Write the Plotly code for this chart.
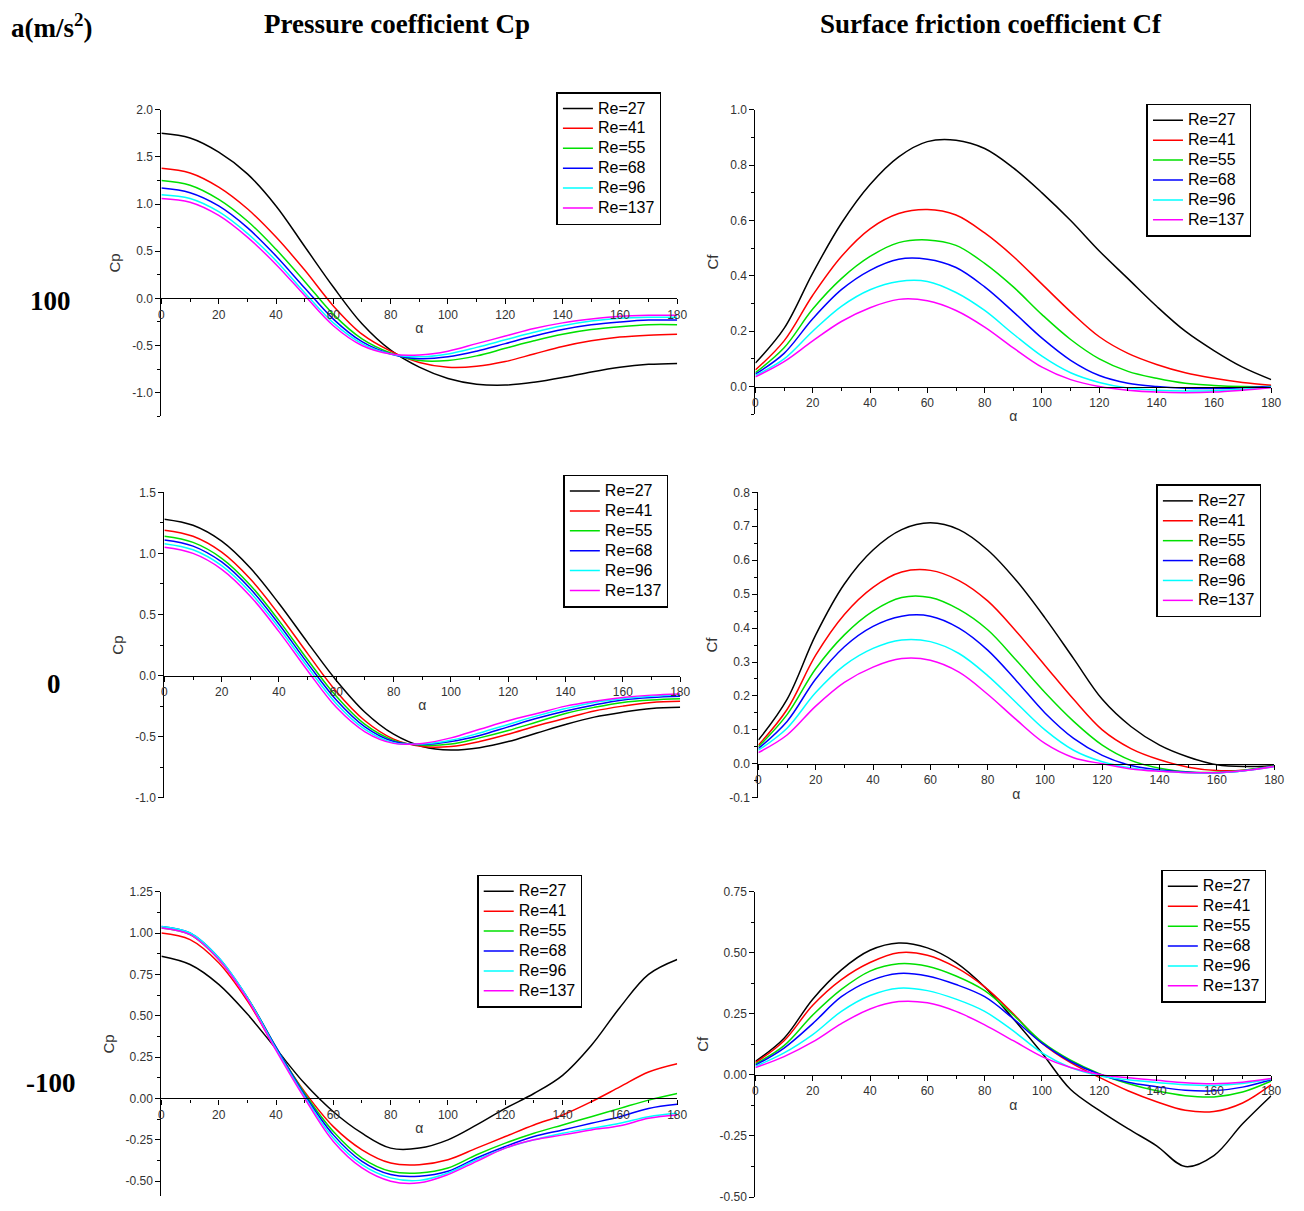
import plotly.graph_objects as go

W, H = 1304, 1211

alpha = [0, 10, 20, 30, 40, 50, 60, 70, 80, 90, 100, 110, 120, 130, 140, 150, 160, 170, 180]
alpha_ticks = [0, 20, 40, 60, 80, 100, 120, 140, 160, 180]
re_labels = ["Re=27", "Re=41", "Re=55", "Re=68", "Re=96", "Re=137"]
colors = ["#000000", "#ff0000", "#00e000", "#0000ff", "#00ffff", "#ff00ff"]

# y tick values per panel
ticks_cp_100 = [-1.0, -0.5, 0.0, 0.5, 1.0, 1.5, 2.0]
ticks_cf_100 = [0.0, 0.2, 0.4, 0.6, 0.8, 1.0]
ticks_cp_0 = [-1.0, -0.5, 0.0, 0.5, 1.0, 1.5]
ticks_cf_0 = [-0.1, 0.0, 0.1, 0.2, 0.3, 0.4, 0.5, 0.6, 0.7, 0.8]
ticks_cp_m100 = [-0.5, -0.25, 0.0, 0.25, 0.5, 0.75, 1.0, 1.25]
ticks_cf_m100 = [-0.5, -0.25, 0.0, 0.25, 0.5, 0.75]

# a = 100, Cp
cp_100_re27 = [1.75, 1.70, 1.55, 1.32, 0.98, 0.55, 0.12, -0.27, -0.55, -0.73, -0.85, -0.91, -0.92, -0.89, -0.84, -0.78, -0.73, -0.70, -0.69]
cp_100_re41 = [1.38, 1.33, 1.18, 0.95, 0.65, 0.30, -0.08, -0.38, -0.56, -0.68, -0.73, -0.72, -0.67, -0.59, -0.51, -0.45, -0.41, -0.39, -0.38]
cp_100_re55 = [1.25, 1.20, 1.05, 0.82, 0.52, 0.18, -0.17, -0.43, -0.58, -0.66, -0.66, -0.61, -0.53, -0.45, -0.38, -0.33, -0.30, -0.28, -0.28]
cp_100_re68 = [1.17, 1.12, 0.98, 0.75, 0.45, 0.11, -0.22, -0.46, -0.59, -0.64, -0.62, -0.56, -0.48, -0.40, -0.33, -0.28, -0.25, -0.23, -0.23]
cp_100_re96 = [1.10, 1.06, 0.92, 0.69, 0.40, 0.06, -0.26, -0.48, -0.59, -0.62, -0.59, -0.52, -0.44, -0.36, -0.29, -0.24, -0.21, -0.20, -0.20]
cp_100_re137 = [1.06, 1.02, 0.88, 0.65, 0.36, 0.03, -0.29, -0.50, -0.59, -0.60, -0.56, -0.48, -0.40, -0.32, -0.26, -0.22, -0.19, -0.18, -0.18]

# a = 100, Cf
cf_100_re27 = [0.085, 0.21, 0.41, 0.59, 0.73, 0.83, 0.885, 0.89, 0.86, 0.79, 0.70, 0.60, 0.49, 0.39, 0.29, 0.20, 0.13, 0.07, 0.025]
cf_100_re41 = [0.06, 0.165, 0.33, 0.47, 0.57, 0.625, 0.64, 0.62, 0.555, 0.47, 0.37, 0.27, 0.18, 0.12, 0.08, 0.05, 0.03, 0.015, 0.005]
cf_100_re55 = [0.05, 0.14, 0.28, 0.39, 0.47, 0.52, 0.53, 0.51, 0.445, 0.36, 0.26, 0.17, 0.10, 0.055, 0.03, 0.012, 0.004, 0.0, 0.0]
cf_100_re68 = [0.045, 0.12, 0.245, 0.35, 0.42, 0.46, 0.46, 0.43, 0.36, 0.27, 0.175, 0.095, 0.04, 0.012, 0.0, -0.006, -0.007, -0.004, 0.0]
cf_100_re96 = [0.04, 0.10, 0.20, 0.29, 0.35, 0.38, 0.38, 0.34, 0.275, 0.19, 0.11, 0.05, 0.015, -0.005, -0.013, -0.016, -0.015, -0.01, -0.002]
cf_100_re137 = [0.035, 0.09, 0.165, 0.235, 0.285, 0.315, 0.31, 0.275, 0.215, 0.14, 0.07, 0.025, 0.0, -0.013, -0.02, -0.022, -0.02, -0.013, -0.004]

# a = 0, Cp
cp_0_re27 = [1.28, 1.23, 1.10, 0.88, 0.59, 0.27, -0.04, -0.30, -0.48, -0.58, -0.61, -0.59, -0.54, -0.47, -0.40, -0.34, -0.30, -0.27, -0.26]
cp_0_re41 = [1.19, 1.14, 1.01, 0.79, 0.50, 0.18, -0.13, -0.37, -0.52, -0.58, -0.58, -0.54, -0.48, -0.41, -0.35, -0.29, -0.25, -0.22, -0.21]
cp_0_re55 = [1.14, 1.09, 0.96, 0.74, 0.45, 0.13, -0.17, -0.40, -0.53, -0.57, -0.56, -0.51, -0.45, -0.38, -0.31, -0.26, -0.22, -0.20, -0.19]
cp_0_re68 = [1.11, 1.06, 0.93, 0.71, 0.42, 0.10, -0.20, -0.42, -0.54, -0.565, -0.54, -0.49, -0.42, -0.35, -0.29, -0.24, -0.20, -0.18, -0.17]
cp_0_re96 = [1.08, 1.03, 0.90, 0.68, 0.39, 0.07, -0.23, -0.44, -0.55, -0.56, -0.53, -0.47, -0.40, -0.33, -0.27, -0.22, -0.19, -0.17, -0.16]
cp_0_re137 = [1.05, 1.00, 0.87, 0.65, 0.36, 0.04, -0.26, -0.46, -0.555, -0.555, -0.51, -0.44, -0.37, -0.31, -0.25, -0.21, -0.18, -0.16, -0.15]

# a = 0, Cf
cf_0_re27 = [0.07, 0.19, 0.38, 0.53, 0.63, 0.69, 0.71, 0.69, 0.63, 0.54, 0.43, 0.31, 0.19, 0.11, 0.055, 0.02, -0.003, -0.008, -0.005]
cf_0_re41 = [0.055, 0.16, 0.32, 0.44, 0.52, 0.565, 0.57, 0.54, 0.48, 0.39, 0.29, 0.19, 0.10, 0.045, 0.012, -0.01, -0.02, -0.018, -0.006]
cf_0_re55 = [0.05, 0.145, 0.28, 0.38, 0.45, 0.49, 0.49, 0.455, 0.395, 0.305, 0.21, 0.125, 0.055, 0.01, -0.013, -0.024, -0.025, -0.018, -0.006]
cf_0_re68 = [0.045, 0.125, 0.25, 0.345, 0.405, 0.435, 0.435, 0.40, 0.335, 0.245, 0.15, 0.075, 0.025, -0.005, -0.018, -0.025, -0.027, -0.02, -0.007]
cf_0_re96 = [0.04, 0.105, 0.21, 0.29, 0.34, 0.365, 0.36, 0.325, 0.26, 0.18, 0.10, 0.04, 0.006, -0.012, -0.021, -0.026, -0.027, -0.02, -0.008]
cf_0_re137 = [0.033, 0.085, 0.17, 0.24, 0.285, 0.31, 0.305, 0.27, 0.205, 0.13, 0.06, 0.018, 0.0, -0.015, -0.022, -0.026, -0.026, -0.02, -0.008]

# a = -100, Cp
cp_m100_re27 = [0.86, 0.81, 0.69, 0.51, 0.30, 0.09, -0.08, -0.21, -0.30, -0.30, -0.25, -0.16, -0.06, 0.03, 0.14, 0.32, 0.55, 0.75, 0.84]
cp_m100_re41 = [1.00, 0.96, 0.82, 0.59, 0.30, 0.04, -0.17, -0.31, -0.39, -0.40, -0.37, -0.30, -0.23, -0.16, -0.10, -0.02, 0.07, 0.16, 0.21]
cp_m100_re55 = [1.03, 0.99, 0.84, 0.61, 0.31, 0.03, -0.20, -0.36, -0.44, -0.45, -0.42, -0.34, -0.27, -0.21, -0.16, -0.11, -0.06, -0.01, 0.03]
cp_m100_re68 = [1.04, 1.00, 0.85, 0.61, 0.31, 0.02, -0.22, -0.38, -0.46, -0.47, -0.44, -0.36, -0.29, -0.23, -0.19, -0.15, -0.11, -0.06, -0.035]
cp_m100_re96 = [1.04, 1.00, 0.85, 0.61, 0.30, 0.01, -0.24, -0.40, -0.48, -0.495, -0.45, -0.37, -0.30, -0.25, -0.21, -0.18, -0.15, -0.11, -0.09]
cp_m100_re137 = [1.03, 0.99, 0.84, 0.60, 0.29, 0.0, -0.26, -0.42, -0.50, -0.51, -0.46, -0.38, -0.30, -0.25, -0.22, -0.19, -0.165, -0.12, -0.10]

# a = -100, Cf
cf_m100_re27 = [0.055, 0.15, 0.31, 0.43, 0.51, 0.54, 0.52, 0.46, 0.36, 0.23, 0.09, -0.06, -0.145, -0.22, -0.29, -0.375, -0.33, -0.20, -0.085]
cf_m100_re41 = [0.05, 0.14, 0.285, 0.39, 0.46, 0.50, 0.49, 0.44, 0.36, 0.25, 0.13, 0.05, -0.01, -0.065, -0.11, -0.145, -0.15, -0.115, -0.04]
cf_m100_re55 = [0.045, 0.12, 0.245, 0.35, 0.425, 0.455, 0.445, 0.405, 0.345, 0.245, 0.135, 0.06, 0.005, -0.035, -0.065, -0.085, -0.09, -0.07, -0.025]
cf_m100_re68 = [0.04, 0.11, 0.21, 0.32, 0.385, 0.415, 0.405, 0.37, 0.32, 0.23, 0.13, 0.055, 0.003, -0.03, -0.048, -0.063, -0.065, -0.05, -0.02]
cf_m100_re96 = [0.035, 0.09, 0.165, 0.26, 0.325, 0.355, 0.345, 0.31, 0.26, 0.18, 0.09, 0.03, -0.003, -0.02, -0.031, -0.04, -0.043, -0.035, -0.017]
cf_m100_re137 = [0.03, 0.075, 0.135, 0.21, 0.27, 0.30, 0.295, 0.26, 0.205, 0.14, 0.075, 0.03, 0.002, -0.012, -0.022, -0.032, -0.036, -0.03, -0.015]

panels = [
    dict(series=[cp_100_re27, cp_100_re41, cp_100_re55, cp_100_re68, cp_100_re96, cp_100_re137],
         box=(160, 681, 104, 414), yr=(-1.25, 2.0), ticks=ticks_cp_100, fmt="{:.1f}", title="Cp", leg=(559, 86)),
    dict(series=[cf_100_re27, cf_100_re41, cf_100_re55, cf_100_re68, cf_100_re96, cf_100_re137],
         box=(760, 1281, 104, 412), yr=(-0.1, 1.0), ticks=ticks_cf_100, fmt="{:.1f}", title="Cf", leg=(1155, 98)),
    dict(series=[cp_0_re27, cp_0_re41, cp_0_re55, cp_0_re68, cp_0_re96, cp_0_re137],
         box=(163, 684, 491, 800), yr=(-1.0, 1.5), ticks=ticks_cp_0, fmt="{:.1f}", title="Cp", leg=(566, 473)),
    dict(series=[cf_0_re27, cf_0_re41, cf_0_re55, cf_0_re68, cf_0_re96, cf_0_re137],
         box=(763, 1284, 491, 800), yr=(-0.1, 0.8), ticks=ticks_cf_0, fmt="{:.1f}", title="Cf", leg=(1165, 483)),
    dict(series=[cp_m100_re27, cp_m100_re41, cp_m100_re55, cp_m100_re68, cp_m100_re96, cp_m100_re137],
         box=(160, 681, 895, 1203), yr=(-0.59, 1.25), ticks=ticks_cp_m100, fmt="{:.2f}", title="Cp", leg=(479, 878)),
    dict(series=[cf_m100_re27, cf_m100_re41, cf_m100_re55, cf_m100_re68, cf_m100_re96, cf_m100_re137],
         box=(760, 1281, 895, 1204), yr=(-0.5, 0.75), ticks=ticks_cf_m100, fmt="{:.2f}", title="Cf", leg=(1170, 873)),
]

fig = go.Figure()
layout = dict(width=W, height=H, margin=dict(l=0, r=0, t=0, b=0),
              paper_bgcolor="white", plot_bgcolor="white", showlegend=True)
tickfont = dict(family="Liberation Sans, Arial", size=12, color="#333333")

for i, p in enumerate(panels, start=1):
    sfx = "" if i == 1 else str(i)
    legname = "legend" if i == 1 else f"legend{i}"
    for lab, col, ys in zip(re_labels, colors, p["series"]):
        fig.add_trace(go.Scatter(
            x=alpha, y=ys, mode="lines",
            name=f"<span style='font-size:16px'>{lab}</span>",
            line=dict(color=col, width=1.5, shape="spline", smoothing=1.0),
            xaxis="x" + sfx, yaxis="y" + sfx, legend=legname))
    x0, x1, y0, y1 = p["box"]
    dom_x = [x0 / W, x1 / W]
    dom_y = [1 - y1 / H, 1 - y0 / H]
    ymin, ymax = p["yr"]
    zero_pos = dom_y[0] + (0 - ymin) / (ymax - ymin) * (dom_y[1] - dom_y[0])
    tv = p["ticks"]
    step = tv[1] - tv[0]
    layout["xaxis" + sfx] = dict(
        domain=dom_x, range=[0, 180], anchor="free", position=zero_pos,
        showline=True, linecolor="#000000", linewidth=1.2,
        ticks="outside", ticklen=5, tickwidth=1, tickcolor="#000000",
        tickvals=alpha_ticks, ticktext=[str(v) for v in alpha_ticks],
        showgrid=False, zeroline=False,
        minor=dict(ticks="outside", ticklen=3, dtick=10, tickcolor="#000000"),
        tickfont=tickfont,
        title=dict(text="α", font=dict(family="Liberation Sans, Arial", size=14, color="#333333"), standoff=2),
    )
    layout["yaxis" + sfx] = dict(
        domain=dom_y, range=[ymin, ymax], anchor="x" + sfx,
        showline=True, linecolor="#000000", linewidth=1.2,
        ticks="outside", ticklen=5, tickwidth=1, tickcolor="#000000",
        tickvals=tv, ticktext=[p["fmt"].format(v) for v in tv],
        showgrid=False, zeroline=False,
        minor=dict(ticks="outside", ticklen=3, dtick=step / 2, tick0=0, tickcolor="#000000"),
        tickfont=tickfont,
        title=dict(text=p["title"], font=dict(family="Liberation Sans, Arial", size=15, color="#333333"), standoff=7),
    )
    lx, ly = p["leg"]
    layout[legname] = dict(
        x=lx / W, y=1 - ly / H, xanchor="left", yanchor="top",
        bordercolor="#000000", borderwidth=1.5, bgcolor="white",
        font=dict(family="Liberation Sans, Arial", size=13, color="#000000"),
        tracegroupgap=0, itemwidth=30,
    )

fig.update_layout(**layout)

serif = "Liberation Serif, Times New Roman, serif"
annots = [
    dict(text="<b>a(m/s<sup>2</sup>)</b>", x=6 / W, y=1 - 19 / H, xanchor="left", yanchor="middle"),
    dict(text="<b>Pressure coefficient Cp</b>", x=398 / W, y=1 - 17 / H, xanchor="center", yanchor="middle"),
    dict(text="<b>Surface friction coefficient Cf</b>", x=998 / W, y=1 - 17 / H, xanchor="center", yanchor="middle"),
    dict(text="<b>100</b>", x=48 / W, y=1 - 297 / H, xanchor="center", yanchor="middle"),
    dict(text="<b>0</b>", x=52 / W, y=1 - 685 / H, xanchor="center", yanchor="middle"),
    dict(text="<b>-100</b>", x=48 / W, y=1 - 1089 / H, xanchor="center", yanchor="middle"),
]
for a in annots:
    fig.add_annotation(xref="paper", yref="paper", showarrow=False,
                       font=dict(family=serif, size=27, color="#000000"), **a)

fig.write_html("out.html")
